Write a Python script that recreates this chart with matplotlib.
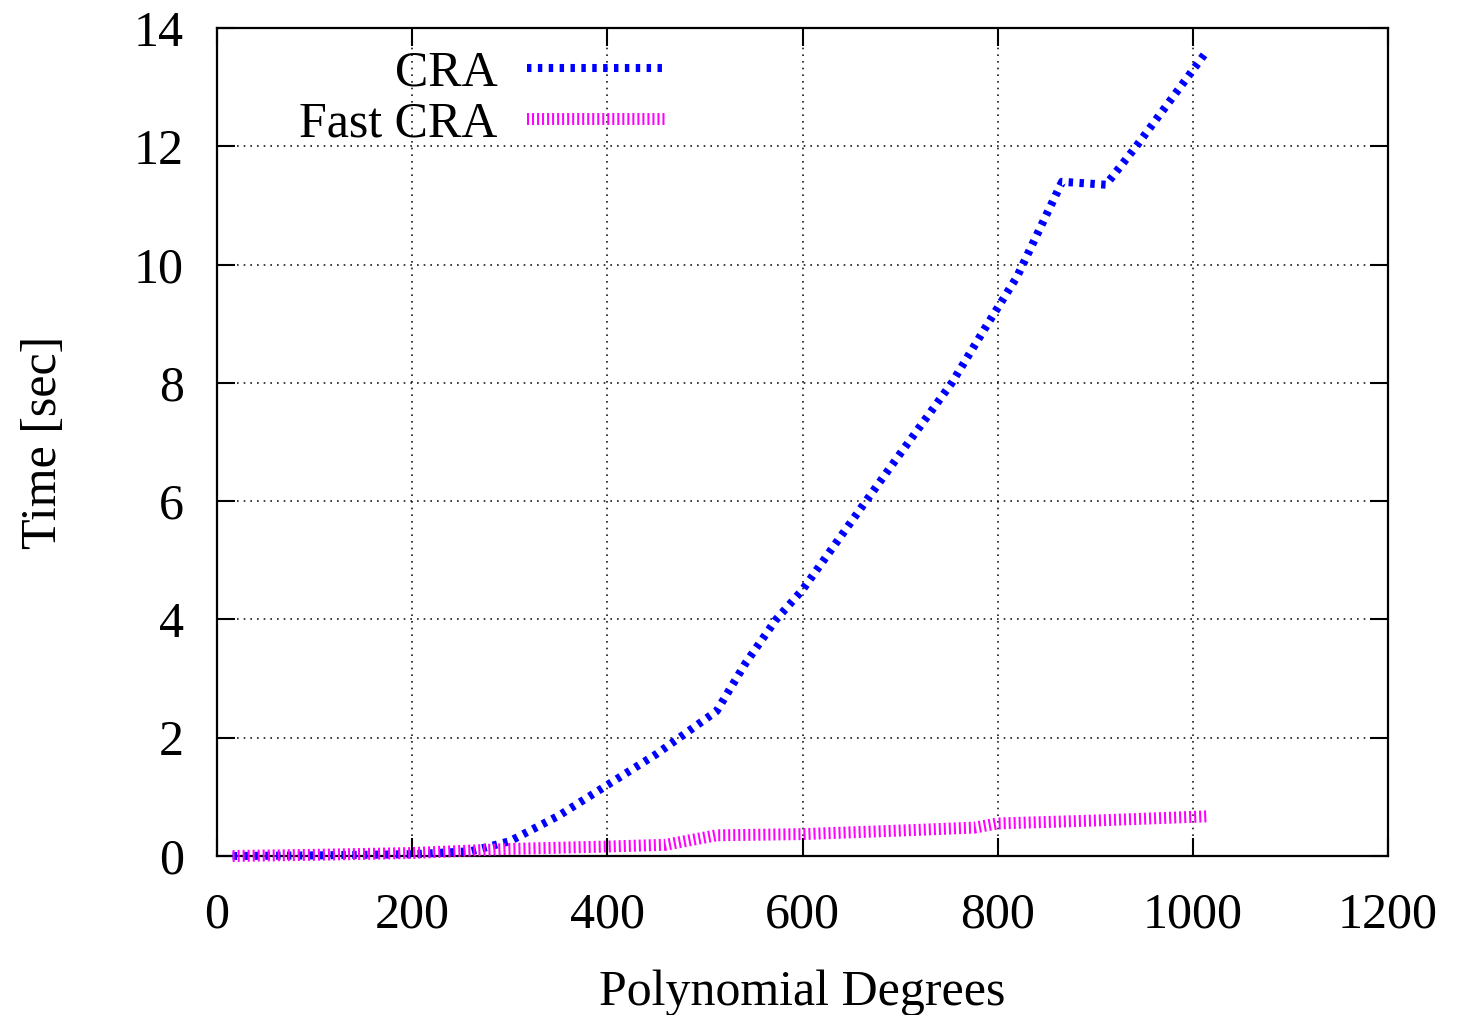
import matplotlib
matplotlib.use("Agg")
import matplotlib.pyplot as plt

# Data
cra_x = [16, 100, 200, 260, 300, 350, 400, 450, 512, 542, 573, 600, 665, 700, 753, 788, 820, 866, 911, 942, 1014]
cra_y = [0.0, 0.01, 0.03, 0.08, 0.25, 0.68, 1.2, 1.72, 2.45, 3.27, 4.0, 4.5, 6.0, 6.8, 8.0, 8.95, 9.8, 11.4, 11.35, 12.0, 13.6]

fast_x = [16, 100, 200, 300, 400, 460, 512, 600, 700, 776, 800, 900, 1014]
fast_y = [0.0, 0.02, 0.05, 0.12, 0.16, 0.19, 0.35, 0.37, 0.43, 0.48, 0.55, 0.6, 0.67]

xticks = [0, 200, 400, 600, 800, 1000, 1200]
yticks = [0, 2, 4, 6, 8, 10, 12, 14]
labels = ["CRA", "Fast CRA"]

plt.rcParams['font.family'] = ['Liberation Serif', 'DejaVu Serif']

fig = plt.figure(figsize=(14.58, 10.15), dpi=100)
ax = fig.add_axes([217/1458, 1-856/1015, (1388-217)/1458, (856-28)/1015])

ax.plot(cra_x, cra_y, color='#0000ff', lw=5.8, dashes=(0.55, 0.8),
        dash_capstyle='butt', label=labels[0], clip_on=False, zorder=3)
ax.plot(fast_x, fast_y, color='#ff00ff', lw=8.6, dashes=(0.17, 0.25),
        dash_capstyle='butt', label=labels[1], clip_on=False, zorder=4)

ax.set_xlim(0, 1200)
ax.set_ylim(0, 14)
ax.set_xticks(xticks)
ax.set_yticks(yticks)
ax.tick_params(direction='in', length=13, width=1.5, top=True, right=True,
               labelsize=36, pad=24)
ax.tick_params(axis='x', pad=26)
for s in ax.spines.values():
    s.set_linewidth(1.6)
ax.grid(True, color='black', linestyle=(0, (1, 3)), linewidth=1.2, alpha=0.9)

ax.set_xlabel("Polynomial Degrees", fontsize=36, labelpad=22)
ax.set_ylabel("Time [sec]", fontsize=36, labelpad=48)

leg = ax.legend(loc='upper left', bbox_to_anchor=(0.053, 0.998), markerfirst=False,
                frameon=False, fontsize=36, handlelength=2.75, handletextpad=0.6,
                labelspacing=0.09, borderaxespad=0.0)
for t in leg.get_texts():
    t.set_ha('right')

fig.savefig("out.png", dpi=100)
